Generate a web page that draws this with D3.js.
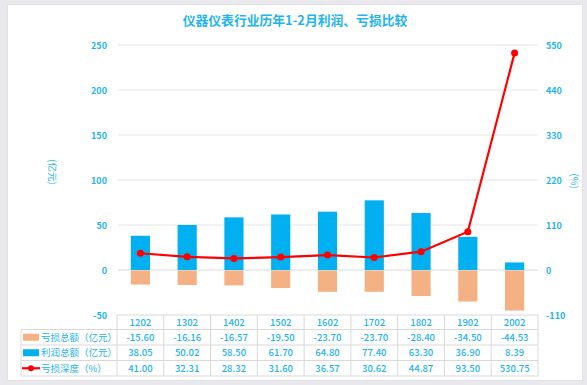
<!DOCTYPE html>
<html lang="zh">
<head>
<meta charset="utf-8">
<title>仪器仪表行业历年1-2月利润、亏损比较</title>
<script src="https://d3js.org/d3.v7.min.js"></script>
<style>
  body { margin: 0; background: #e9e9ed; }
  text { font-family: "Noto Sans CJK SC", "Noto Sans", sans-serif; }
</style>
</head>
<body>
<script>
// data
const categories = ["1202", "1302", "1402", "1502", "1602", "1702", "1802", "1902", "2002"];
const loss = [-15.60, -16.16, -16.57, -19.50, -23.70, -23.70, -28.40, -34.50, -44.53];
const profit = [38.05, 50.02, 58.50, 61.70, 64.80, 77.40, 63.30, 36.90, 8.39];
const depth = [41.00, 32.31, 28.32, 31.60, 36.57, 30.62, 44.87, 93.50, 530.75];
const leftTicks = [-50, 0, 50, 100, 150, 200, 250];
const rightTicks = [-110, 0, 110, 220, 330, 440, 550];
const seriesNames = ["亏损总额（亿元）", "利润总额（亿元）", "亏损深度（%）"];

const w = 587, h = 385;
const blue = "#00b0f0", orange = "#f4b183", red = "#ff0000", txt = "#1fb4ee";
const plotL = 117, plotR = 538, plotT = 45, plotB = 315;

const svg = d3.select("body").append("svg").attr("width", w).attr("height", h);

// card
svg.append("rect").attr("x", 7.5).attr("y", 4.5).attr("width", 575).attr("height", 376)
  .attr("fill", "#fff").attr("stroke", "#e2e2e6");

svg.append("text").attr("x", 295).attr("y", 25).attr("text-anchor", "middle")
  .attr("font-size", 12.8).attr("font-weight", "bold").attr("fill", txt)
  .text("仪器仪表行业历年1-2月利润、亏损比较");

const x = d3.scaleBand().domain(categories).range([plotL, plotR]);
const yL = d3.scaleLinear().domain([-50, 250]).range([plotB, plotT]);
const yR = d3.scaleLinear().domain([-110, 550]).range([plotB, plotT]);

// gridlines
svg.append("g").selectAll("line").data(leftTicks.filter(d => d > -50)).join("line")
  .attr("x1", plotL + 1).attr("x2", plotR)
  .attr("y1", d => yL(d)).attr("y2", d => yL(d))
  .attr("stroke", d => d === 0 ? "#d9d9d9" : "#e6e6e6").attr("stroke-width", 1.2);

// tick labels
svg.append("g").selectAll("text").data(leftTicks).join("text")
  .attr("x", 107).attr("y", d => yL(d) + 3.5).attr("text-anchor", "end")
  .attr("font-size", 9).attr("font-weight", "bold").attr("fill", txt).text(d => d);
svg.append("g").selectAll("text").data(rightTicks).join("text")
  .attr("x", 546).attr("y", d => yR(d) + 3.5).attr("text-anchor", "start")
  .attr("font-size", 9).attr("font-weight", "bold").attr("fill", txt).text(d => d);

// axis titles
svg.append("text").attr("transform", "translate(49,172) rotate(90)").attr("text-anchor", "middle")
  .attr("font-size", 9.5).attr("fill", txt).text("(亿元)");
svg.append("text").attr("transform", "translate(571,181) rotate(90)").attr("text-anchor", "middle")
  .attr("font-size", 9.5).attr("fill", txt).text("(%)");

// bars
const bw = x.bandwidth() * 0.41;
const bx = d => x(d) + (x.bandwidth() - bw) / 2;
svg.append("g").selectAll("rect").data(categories).join("rect")
  .attr("x", d => bx(d)).attr("width", bw)
  .attr("y", (d, i) => yL(profit[i])).attr("height", (d, i) => yL(0) - yL(profit[i]))
  .attr("fill", blue);
svg.append("g").selectAll("rect").data(categories).join("rect")
  .attr("x", d => bx(d)).attr("width", bw)
  .attr("y", yL(0) + 0.5).attr("height", (d, i) => yL(loss[i]) - yL(0))
  .attr("fill", orange);

// line
const line = d3.line().x((d, i) => x(categories[i]) + x.bandwidth() / 2).y(d => yR(d));
svg.append("path").datum(depth).attr("d", line)
  .attr("fill", "none").attr("stroke", red).attr("stroke-width", 2.2);
svg.append("g").selectAll("circle").data(depth).join("circle")
  .attr("cx", (d, i) => x(categories[i]) + x.bandwidth() / 2).attr("cy", d => yR(d))
  .attr("r", 3.5).attr("fill", red);

// data table
const rowY = [315, 329.5, 345, 360.5, 376];
const tbl = svg.append("g").attr("stroke", "#d9d9d9").attr("stroke-width", 1);
rowY.forEach((y, i) => {
  tbl.append("line").attr("x1", i === 0 ? plotL : 21).attr("x2", plotR)
    .attr("y1", y).attr("y2", y);
});
tbl.append("line").attr("x1", 21).attr("x2", 21).attr("y1", rowY[1]).attr("y2", rowY[4]);
categories.forEach(c => {
  tbl.append("line").attr("x1", x(c)).attr("x2", x(c)).attr("y1", rowY[0]).attr("y2", rowY[4]);
});
tbl.append("line").attr("x1", plotR).attr("x2", plotR).attr("y1", rowY[0]).attr("y2", rowY[4]);

const cellText = (vals, row, fmt) => svg.append("g").selectAll("text").data(vals).join("text")
  .attr("x", (d, i) => x(categories[i]) + x.bandwidth() / 2)
  .attr("y", (rowY[row] + rowY[row + 1]) / 2 + 3.5)
  .attr("text-anchor", "middle").attr("font-size", 9.5).attr("font-weight", 500)
  .attr("fill", txt).text(fmt);
cellText(categories, 0, d => d);
cellText(loss, 1, d => d.toFixed(2));
cellText(profit, 2, d => d.toFixed(2));
cellText(depth, 3, d => d.toFixed(2));

// legend keys
const midY = r => (rowY[r] + rowY[r + 1]) / 2;
svg.append("rect").attr("x", 23).attr("y", midY(1) - 3.5).attr("width", 16).attr("height", 7).attr("fill", orange);
svg.append("rect").attr("x", 23).attr("y", midY(2) - 3.5).attr("width", 16).attr("height", 7).attr("fill", blue);
svg.append("line").attr("x1", 22).attr("x2", 40).attr("y1", midY(3)).attr("y2", midY(3))
  .attr("stroke", red).attr("stroke-width", 2.2);
svg.append("circle").attr("cx", 31).attr("cy", midY(3)).attr("r", 3).attr("fill", red);
seriesNames.forEach((n, i) => {
  svg.append("text").attr("x", 41).attr("y", midY(i + 1) + 3.5)
    .attr("font-size", 9.5).attr("fill", txt).text(n);
});
</script>
</body>
</html>
